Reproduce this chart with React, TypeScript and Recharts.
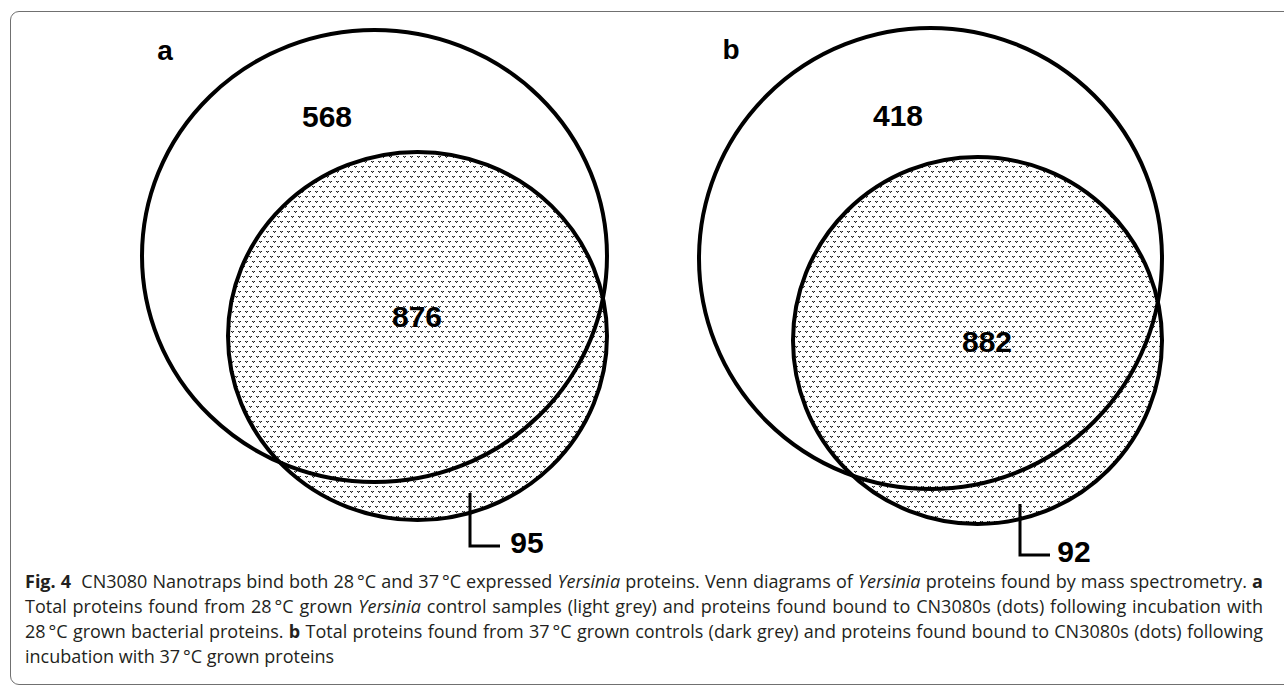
import React from 'react';
import { ScatterChart, Scatter, XAxis, YAxis } from 'recharts';

const W = 1284;
const H = 570;

const panels = ['a', 'b'];
const panelLabelX = [165, 731];
const panelLabelY = [50, 49];

// total proteins in controls (outline only)
const totalCx = [374.5, 930.5];
const totalCy = [256, 258.5];
const totalRx = [232.5, 231.5];
const totalRy = [226, 230.5];

// proteins bound to CN3080 (dots)
const boundCx = [417.5, 977.5];
const boundCy = [336, 340.5];
const boundRx = [189.5, 184.5];
const boundRy = [184, 183.5];

// region counts
const controlOnly = [568, 418];
const controlOnlyX = [327, 898];
const controlOnlyY = [116, 115];
const shared = [876, 882];
const sharedX = [417, 987];
const sharedY = [316, 341];
const boundOnly = [95, 92];
const boundOnlyX = [527, 1074];
const boundOnlyY = [542, 551];

// leader lines for the bound-only counts
const leaderX = [470, 470, 500];
const leaderYa = [493, 546, 546];
const leaderXb = [1020, 1020, 1050];
const leaderYb = [504, 555, 555];

const PX = 1; // chart is W px wide for a 0..W domain

const totalData = panels.map((p, i) => ({ panel: p, x: totalCx[i], y: totalCy[i], rx: totalRx[i], ry: totalRy[i] }));
const boundData = panels.map((p, i) => ({ panel: p, x: boundCx[i], y: boundCy[i], rx: boundRx[i], ry: boundRy[i] }));
const labelData = [
  ...panels.map((p, i) => ({ x: panelLabelX[i], y: panelLabelY[i], text: p, size: 28 })),
  ...panels.map((p, i) => ({ x: controlOnlyX[i], y: controlOnlyY[i], text: String(controlOnly[i]), size: 30 })),
  ...panels.map((p, i) => ({ x: sharedX[i], y: sharedY[i], text: String(shared[i]), size: 30 })),
  ...panels.map((p, i) => ({ x: boundOnlyX[i], y: boundOnlyY[i], text: String(boundOnly[i]), size: 30 })),
];
const leaderA = leaderX.map((x, i) => ({ x, y: leaderYa[i] }));
const leaderB = leaderXb.map((x, i) => ({ x, y: leaderYb[i] }));

const Ellipse = (fill: string) => (props: any) => (
  <ellipse
    cx={props.cx}
    cy={props.cy}
    rx={props.payload.rx * PX}
    ry={props.payload.ry * PX}
    fill={fill}
    stroke="#000"
    strokeWidth={4}
  />
);

const Label = (props: any) => (
  <text
    x={props.cx}
    y={props.cy}
    textAnchor="middle"
    dominantBaseline="central"
    fontFamily="'Liberation Sans', Arial, sans-serif"
    fontWeight="bold"
    fontSize={props.payload.size}
    fill="#000"
  >
    {props.payload.text}
  </text>
);

const lineStyle: React.CSSProperties = {
  position: 'absolute',
  left: 25,
  width: 1238,
  whiteSpace: 'nowrap',
  fontFamily: "'Open Sans', sans-serif",
  fontSize: 18,
  color: '#231f20',
  lineHeight: '24px',
};
const justified: React.CSSProperties = { whiteSpace: 'normal', textAlign: 'justify', textAlignLast: 'justify' };

export default function App() {
  return (
    <div style={{ position: 'absolute', left: 0, top: 0, width: W, height: 685, overflow: 'hidden', background: '#fff' }}>
      <div
        style={{
          position: 'absolute',
          left: 10,
          top: 11,
          width: 1300,
          height: 672,
          border: '1.5px solid #707070',
          borderRadius: 9,
        }}
      />
      <div style={{ position: 'absolute', left: 0, top: 0 }}>
        <ScatterChart width={W} height={H} margin={{ top: 0, right: 0, bottom: 0, left: 0 }}>
          <defs>
            <pattern id="dots" patternUnits="userSpaceOnUse" width={7} height={10}>
              <rect x={0} y={0} width={7} height={10} fill="#fff" />
              <rect x={0} y={1} width={1} height={1} fill="#222" />
              <rect x={1} y={1} width={1} height={1} fill="#999" />
              <rect x={2} y={1} width={1} height={1} fill="#222" />
              <rect x={1} y={2} width={1} height={1} fill="#333" />
              <rect x={4} y={6} width={1} height={1} fill="#222" />
              <rect x={5} y={6} width={1} height={1} fill="#999" />
              <rect x={6} y={6} width={1} height={1} fill="#222" />
              <rect x={5} y={7} width={1} height={1} fill="#333" />
            </pattern>
          </defs>
          <XAxis type="number" dataKey="x" domain={[0, W]} hide />
          <YAxis type="number" dataKey="y" domain={[0, H]} reversed hide />
          <Scatter data={boundData} shape={Ellipse('url(#dots)')} isAnimationActive={false} />
          <Scatter data={totalData} shape={Ellipse('none')} isAnimationActive={false} />
          <Scatter
            data={leaderA}
            line={{ stroke: '#000', strokeWidth: 3 }}
            lineType="joint"
            shape={() => <g />}
            isAnimationActive={false}
          />
          <Scatter
            data={leaderB}
            line={{ stroke: '#000', strokeWidth: 3 }}
            lineType="joint"
            shape={() => <g />}
            isAnimationActive={false}
          />
          <Scatter data={labelData} shape={Label} isAnimationActive={false} />
        </ScatterChart>
      </div>
      <div style={{ ...lineStyle, ...justified, top: 569 }}>
        <b>Fig. 4</b>&nbsp; CN3080 Nanotraps bind both 28&thinsp;°C and 37&thinsp;°C expressed <i>Yersinia</i> proteins. Venn
        diagrams of <i>Yersinia</i> proteins found by mass spectrometry. <b>a</b>
      </div>
      <div style={{ ...lineStyle, ...justified, top: 594 }}>
        Total proteins found from 28&thinsp;°C grown <i>Yersinia</i> control samples (light grey) and proteins found bound to
        CN3080s (dots) following incubation with
      </div>
      <div style={{ ...lineStyle, ...justified, top: 619 }}>
        28&thinsp;°C grown bacterial proteins. <b>b</b> Total proteins found from 37&thinsp;°C grown controls (dark grey) and
        proteins found bound to CN3080s (dots) following
      </div>
      <div style={{ ...lineStyle, top: 644 }}>incubation with 37&thinsp;°C grown proteins</div>
    </div>
  );
}
